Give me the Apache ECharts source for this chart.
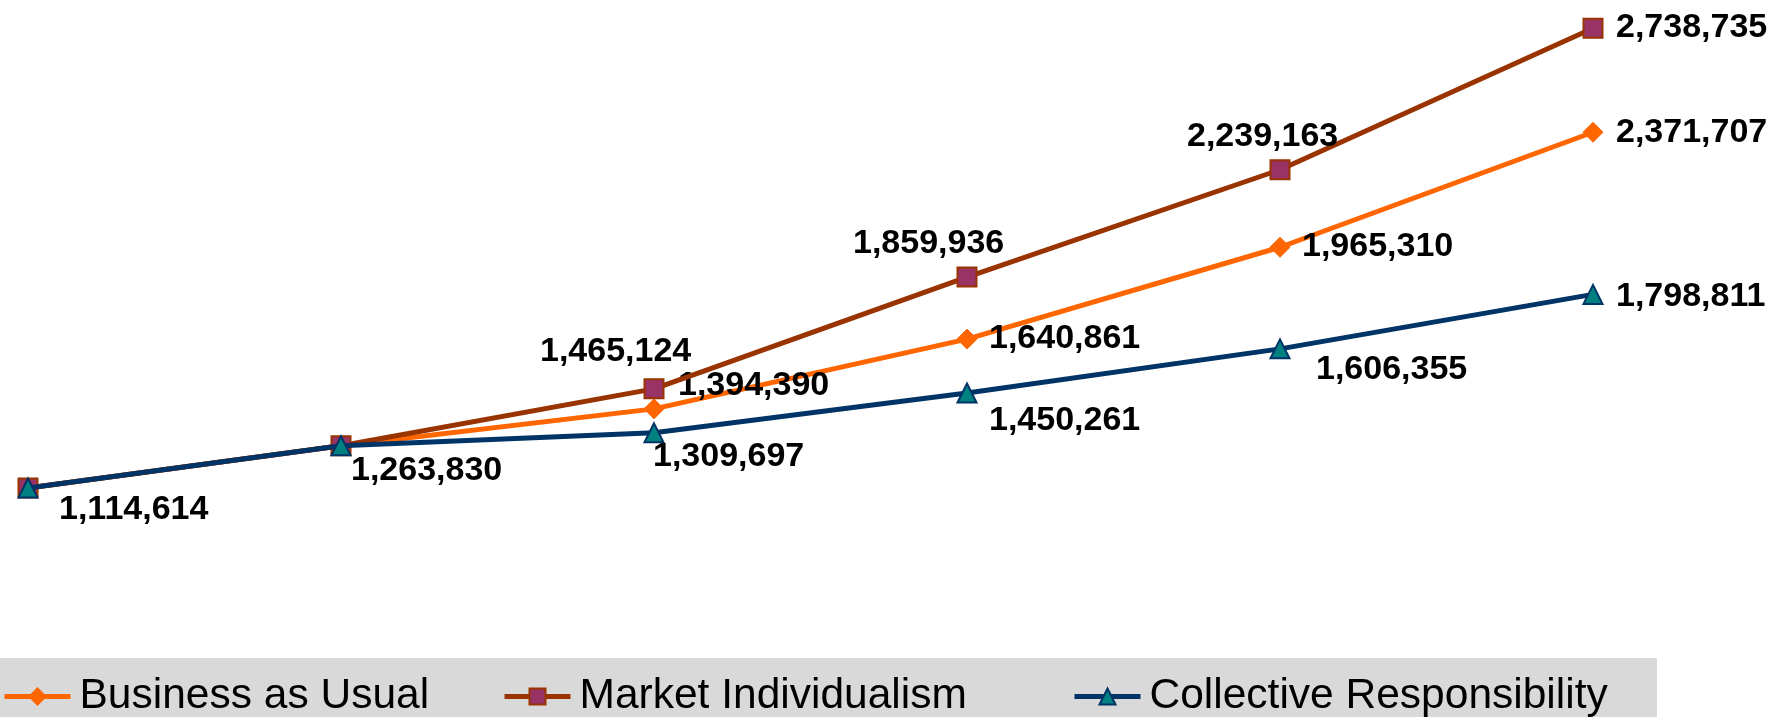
<!DOCTYPE html>
<html lang="en">
<head>
    <meta charset="UTF-8">
    <title>Scenarios</title>
    <style>
        html, body { margin: 0; padding: 0; background: #fff; }
    </style>
</head>
<script src="https://cdn.jsdelivr.net/npm/echarts@6/dist/echarts.min.js"></script>
<body>
<div id="main" style="height: 717px;width: 1771px"></div>
<script type="text/javascript">
    // data (x axis has no visible labels)
    var periods = ['1', '2', '3', '4', '5', '6']
    var businessAsUsual = [1114614, 1263830, 1394390, 1640861, 1965310, 2371707]
    var marketIndividualism = [1114614, 1263830, 1465124, 1859936, 2239163, 2738735]
    var collectiveResponsibility = [1114614, 1263830, 1309697, 1450261, 1606355, 1798811]

    // label placement per point: [dx, dy] from point centre to label left/middle, null = no label
    var bauLabelPos = [null, null, [24, -23], [22, 0], [22, -1], [23, 0]]
    var miLabelPos = [null, null, [-114, -37], [-114, -33], [-93, -33], [23, -1]]
    var crLabelPos = [[31, 22], [10, 25], [-1, 24], [22, 28], [36, 21], [23, 2]]

    var labelFont = 'Liberation Sans'

    function withLabels(values, pos) {
        return values.map(function (v, i) {
            var p = pos[i]
            if (!p) return { value: v, label: { show: false } }
            return {
                value: v,
                label: {
                    show: true,
                    position: 'inside',
                    align: 'left',
                    verticalAlign: 'middle',
                    offset: p
                }
            }
        })
    }

    var labelStyle = {
        show: true,
        color: '#000',
        fontFamily: labelFont,
        fontWeight: 'bold',
        fontSize: 34,
        formatter: function (p) { return p.value.toLocaleString('en-US') }
    }

    var legendText = {
        color: '#000',
        fontFamily: 'Liberation Sans',
        fontSize: 42.5,
        padding: [0, 0, 0, 4]
    }

    function oneLegend(name, left) {
        return {
            data: [name],
            left: left,
            top: 675,
            padding: 0,
            itemWidth: 66,
            itemHeight: 20,
            lineStyle: { width: 5 },
            textStyle: legendText,
            selectedMode: false
        }
    }

    var myChart = echarts.init(document.getElementById('main'))
    var option = {
        animation: false,
        backgroundColor: '#fff',
        graphic: [{
            type: 'rect',
            left: 0,
            bottom: 0,
            z: -1,
            shape: { width: 1657, height: 59 },
            style: { fill: '#d9d9d9' }
        }],
        legend: [
            oneLegend('Business as Usual', 2),
            oneLegend('Market Individualism', 502),
            oneLegend('Collective Responsibility', 1072)
        ],
        grid: { left: 28, right: 178, top: 11, bottom: 196.5 },
        xAxis: {
            type: 'category',
            data: periods,
            boundaryGap: false,
            show: false
        },
        yAxis: {
            type: 'value',
            min: 1000000,
            max: 2800000,
            show: false,
            splitLine: { show: false }
        },
        series: [{
            name: 'Business as Usual',
            type: 'line',
            data: withLabels(businessAsUsual, bauLabelPos),
            symbol: 'diamond',
            symbolSize: 20,
            lineStyle: { color: '#ff6600', width: 5 },
            itemStyle: { color: '#ff6600', borderColor: '#ff6600', borderWidth: 1 },
            label: labelStyle,
            z: 2
        }, {
            name: 'Market Individualism',
            type: 'line',
            data: withLabels(marketIndividualism, miLabelPos),
            symbol: 'rect',
            symbolSize: 19,
            lineStyle: { color: '#993300', width: 5 },
            itemStyle: { color: '#993366', borderColor: '#993300', borderWidth: 2 },
            label: labelStyle,
            z: 3
        }, {
            name: 'Collective Responsibility',
            type: 'line',
            data: withLabels(collectiveResponsibility, crLabelPos),
            symbol: 'triangle',
            symbolSize: 19,
            lineStyle: { color: '#003366', width: 5 },
            itemStyle: { color: '#008080', borderColor: '#003366', borderWidth: 2 },
            label: labelStyle,
            z: 4
        }]
    }
    myChart.setOption(option)
</script>

</body>
</html>
